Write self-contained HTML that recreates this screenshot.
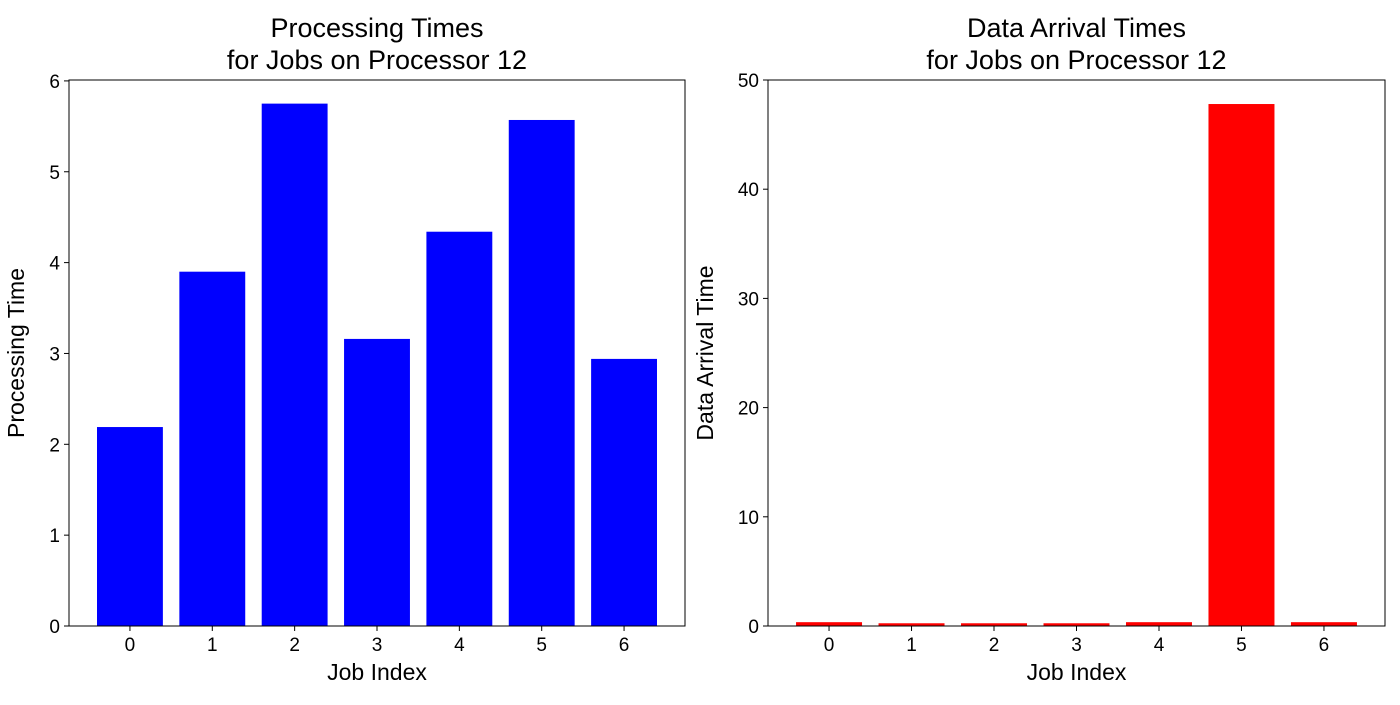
<!DOCTYPE html>
<html><head><meta charset="utf-8"><style>
body{margin:0;background:#fff;}
svg text{font-family:"Liberation Sans","DejaVu Sans",sans-serif;fill:#000;}
</style></head><body>
<svg id="chart" width="1400" height="700"></svg>
<script>
const categories=[0,1,2,3,4,5,6];
const procTimes=[2.19,3.90,5.75,3.16,4.34,5.57,2.94];
const arrivalTimes=[0.35,0.25,0.25,0.25,0.35,47.8,0.35];
const procTicks=[0,1,2,3,4,5,6];
const arrivalTicks=[0,10,20,30,40,50];
const NS="http://www.w3.org/2000/svg";
const svg=document.getElementById('chart');
function mk(t,a,p){const e=document.createElementNS(NS,t);for(const k in a)e.setAttribute(k,a[k]);(p||svg).appendChild(e);return e;}
function panel(name,L,R,T,B,ymax,vals,ticks,color,t1,t2,ylabel){
  const g=mk('g',{});
  
  
  const xs=v=>L+(v+0.74)/7.48*(R-L);
  const ys=v=>B-v/ymax*(B-T);
  const bw=0.8/7.48*(R-L);
  vals.forEach((v,i)=>{
    const r=mk('rect',{x:xs(categories[i])-bw/2,y:ys(v),width:bw,height:B-ys(v),fill:color},g);
    
    
  });
  const f=mk('rect',{x:L,y:T,width:R-L,height:B-T,fill:'none',stroke:'#000','stroke-width':1},g);
  
  
  categories.forEach(c=>{
    mk('line',{x1:xs(c),x2:xs(c),y1:B,y2:B+5,stroke:'#000'},g);
    const t=mk('text',{x:xs(c),y:B+25,'text-anchor':'middle','font-size':19},g);
    t.textContent=c;
    
    
  });
  ticks.forEach(v=>{
    mk('line',{x1:L-5,x2:L,y1:ys(v),y2:ys(v),stroke:'#000'},g);
    const t=mk('text',{x:L-9,y:ys(v)+7,'text-anchor':'end','font-size':19},g);
    t.textContent=v;
    
    
  });
  const xl=mk('text',{x:(L+R)/2,y:680,'text-anchor':'middle','font-size':23},g);
  xl.textContent='Job Index';
  
  
  const cy=(T+B)/2, cx=L-(ymax>10?55:45);
  const yl=mk('text',{x:cx,y:cy,'text-anchor':'middle','font-size':23,transform:`rotate(-90 ${cx} ${cy})`},g);
  yl.textContent=ylabel;
  
  
  const ti=mk('text',{x:(L+R)/2,y:37,'text-anchor':'middle','font-size':27},g);
  ti.textContent=t1;
  
  
  const ti2=mk('text',{x:(L+R)/2,y:69,'text-anchor':'middle','font-size':27},g);
  ti2.textContent=t2;
  
  
}
panel('processing-times-panel',69,685,80,626,6.01,procTimes,procTicks,'#0000ff','Processing Times','for Jobs on Processor 12','Processing Time');
panel('arrival-times-panel',768,1385,80,626,50,arrivalTimes,arrivalTicks,'#ff0000','Data Arrival Times','for Jobs on Processor 12','Data Arrival Time');
</script>
</body></html>
